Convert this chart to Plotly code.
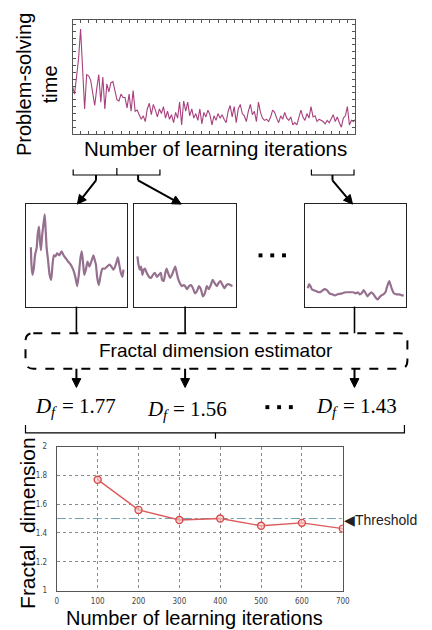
import math
import plotly.graph_objects as go

W, H = 432, 630

# ---- data -------------------------------------------------------------
# problem-solving time (relative units), sampled every 5 learning iterations
iters_time = list(range(0, 701, 5))
solve_time = [42, 35, 50, 66, 92, 58, 22, 52, 51, 47, 35, 25, 40, 52, 28, 50, 22, 44, 37, 45,
              46, 37, 30, 29, 35, 32, 32, 23, 35, 20, 38, 20, 21, 17, 13, 16, 11,
              22, 27, 17, 26, 21, 15, 22, 18, 24, 14, 20, 13, 17, 10, 19, 14, 28, 8, 29,
              20, 28, 16, 22, 14, 18, 12, 22, 9, 19, 15, 21, 17, 8, 16, 12, 18,
              14, 17, 13, 10, 20, 25, 15, 24, 10, 22, 26, 18, 16, 11, 20, 26, 17, 20, 11,
              28, 19, 14, 12, 13, 11, 15, 21, 19, 14, 10, 16, 13, 19, 14, 12, 15, 8,
              10, 8, 16, 21, 15, 12, 18, 14, 24, 15, 16, 11, 13, 12, 11, 9, 12, 10, 14,
              17, 11, 15, 10, 6, 14, 16, 24, 8, 12, 11, 13]

# zoomed windows of the learning curve (position within window, relative time)
win1_x = [4.8, 5.4, 6.4, 7.7, 8.9, 10.5, 11.5, 12.8, 13.7, 14.7, 16.0, 17.3, 18.5, 19.5, 20.4,
          21.7, 23.3, 24.9, 26.2, 27.5, 29.1, 30.7, 32.9, 35.1, 37.1, 39.3, 41.5, 44.1, 46.6,
          48.9, 50.5, 52.1, 53.7, 55.0, 56.2, 57.5, 59.1, 60.7, 62.6, 64.5, 66.5, 67.7, 69.0,
          70.3, 71.9, 73.5, 75.4, 77.6, 79.9, 82.4, 84.3, 86.3, 87.9, 89.5, 90.7, 92.0, 93.6,
          95.2, 96.2]
win1_y = [58, 41, 31, 37, 50, 57, 70, 78, 65, 55, 70, 81, 90, 73, 57, 46, 31, 26, 41, 50,
          49, 52, 50, 54, 50, 47, 44, 41, 36, 28, 20, 31, 47, 54, 44, 31, 36, 44, 39, 44,
          50, 46, 41, 28, 21, 30, 37, 37, 39, 41, 39, 36, 39, 44, 48, 41, 33, 29, 36]

win2_x = [3.2, 4.2, 5.5, 6.8, 8.1, 9.4, 10.6, 12.3, 14.5, 16.5, 18.4, 20.3, 22.3, 24.2, 26.1,
          27.4, 29.0, 30.6, 31.9, 33.2, 35.2, 37.1, 39.0, 40.3, 41.6, 42.9, 44.8, 46.8, 48.4,
          50.0, 51.9, 53.9, 55.8, 57.7, 59.7, 61.6, 63.5, 65.5, 67.4, 69.4, 71.3, 73.2, 75.2,
          77.1, 79.0, 81.0, 82.9, 84.8, 86.8, 88.7, 90.6, 92.6, 94.5, 96.5]
win2_y = [49, 41, 36, 39, 31, 36, 37, 33, 29, 28, 31, 33, 29, 31, 33, 26, 25, 33, 37, 33,
          28, 31, 36, 39, 34, 28, 23, 20, 21, 20, 17, 20, 21, 18, 13, 15, 20, 17, 10, 13,
          20, 17, 21, 26, 23, 20, 23, 25, 21, 18, 21, 22, 21, 20]

win3_x = [3.2, 4.5, 5.8, 7.1, 9.0, 11.6, 14.2, 16.8, 19.4, 21.9, 24.5, 27.1, 29.7, 32.3, 34.8,
          37.4, 40.0, 42.6, 45.2, 47.7, 50.3, 52.3, 54.2, 56.1, 58.1, 60.0, 61.9, 63.9, 65.8,
          67.7, 69.7, 71.6, 73.5, 75.5, 77.4, 79.4, 80.6, 81.9, 83.2, 84.5, 85.8, 87.7, 90.3,
          92.9, 95.5, 97.4]
win3_y = [18, 22, 20, 17, 16, 15, 14, 15, 17, 16, 13, 12, 11, 12, 12.5, 13, 14, 14, 14, 14,
          13, 14, 12, 13, 16, 13, 10, 12.5, 14, 12, 9, 7, 9, 11, 12, 14, 18, 22, 25, 21,
          17, 13, 12, 12, 11, 11]

# estimated fractal dimension per 100-iteration window
fd_iters = [100, 200, 300, 400, 500, 600, 700]
fd_values = [1.77, 1.56, 1.49, 1.50, 1.45, 1.47, 1.43]
threshold = 1.5

fd_ticks_x = [0, 100, 200, 300, 400, 500, 600, 700]
fd_ticks_y = [1, 1.2, 1.4, 1.6, 1.8, 2]
fd_ticktext_y = ["1", "1.2", "1.4", "1.6", "1.8", "2"]


def xdom(a, b):
    return [a / W, b / W]


def ydom(top, bottom):
    return [1 - bottom / H, 1 - top / H]


SANS = "Liberation Sans"
SERIF = "Liberation Serif"
LINE_TIME = "#a8407e"
LINE_WIN = "#96708f"

fig = go.Figure()

# learning curve
fig.add_trace(go.Scatter(x=iters_time, y=solve_time, mode="lines",
                         line=dict(color=LINE_TIME, width=1.1),
                         xaxis="x", yaxis="y", hoverinfo="skip"))

# three zoomed windows
for k, (wx, wy) in enumerate([(win1_x, win1_y), (win2_x, win2_y), (win3_x, win3_y)], start=2):
    fig.add_trace(go.Scatter(x=wx, y=wy, mode="lines",
                             line=dict(color=LINE_WIN, width=2.2, shape="spline", smoothing=0.5),
                             xaxis=f"x{k}", yaxis=f"y{k}", hoverinfo="skip"))

# threshold and fractal-dimension curve
fig.add_trace(go.Scatter(x=[fd_ticks_x[0], fd_ticks_x[-1]], y=[threshold, threshold], mode="lines",
                         line=dict(color="#6f9fb3", width=1, dash="dashdot"),
                         xaxis="x5", yaxis="y5", hoverinfo="skip"))
fig.add_trace(go.Scatter(x=fd_iters, y=fd_values, mode="lines+markers",
                         line=dict(color="#dd5a5a", width=1.4),
                         marker=dict(symbol="circle", size=7, color="rgba(250,200,200,0.6)",
                                     line=dict(color="#d94c4c", width=1.4)),
                         xaxis="x5", yaxis="y5", hoverinfo="skip"))

# canvas axis in pixel units for the flow-diagram decorations
fig.add_trace(go.Scatter(x=[0], y=[0], mode="markers", marker=dict(opacity=0),
                         xaxis="x6", yaxis="y6", hoverinfo="skip"))

frame = dict(showline=True, mirror=True, linecolor="#222", linewidth=1.3,
             showgrid=False, zeroline=False, showticklabels=False, ticks="")

layout = dict(
    width=W, height=H, autosize=False,
    margin=dict(l=0, r=0, t=0, b=0),
    paper_bgcolor="white", plot_bgcolor="rgba(0,0,0,0)",
    showlegend=False,
    xaxis=dict(domain=xdom(72, 361), range=[0, 700], anchor="y",
               showline=True, mirror="allticks", linecolor="#555", linewidth=1,
               ticks="inside", ticklen=3, tickcolor="#555", dtick=20,
               showgrid=False, zeroline=False, showticklabels=False),
    yaxis=dict(domain=ydom(16, 132), range=[0, 100], anchor="x",
               showline=True, mirror="allticks", linecolor="#555", linewidth=1,
               ticks="inside", ticklen=3, tickcolor="#555", dtick=6,
               showgrid=False, zeroline=False, showticklabels=False),
    xaxis2=dict(domain=xdom(24.5, 128), range=[0, 100], anchor="y2", **frame),
    yaxis2=dict(domain=ydom(203, 307), range=[0, 100], anchor="x2", **frame),
    xaxis3=dict(domain=xdom(135, 239), range=[0, 100], anchor="y3", **frame),
    yaxis3=dict(domain=ydom(203, 307), range=[0, 100], anchor="x3", **frame),
    xaxis4=dict(domain=xdom(309, 413), range=[0, 100], anchor="y4", **frame),
    yaxis4=dict(domain=ydom(203, 307), range=[0, 100], anchor="x4", **frame),
    xaxis5=dict(domain=xdom(56, 348), range=[0, 700], anchor="y5",
                tickvals=fd_ticks_x, ticks="", ticklabelstandoff=3,
                tickfont=dict(family="DejaVu Sans Condensed", size=8, color="#444"),
                showline=True, mirror=True, linecolor="#555", linewidth=1.2,
                showgrid=True, gridcolor="#8a8a8a", griddash="dot", gridwidth=1,
                zeroline=False),
    yaxis5=dict(domain=ydom(449, 595), range=[1, 2], anchor="x5",
                tickvals=fd_ticks_y, ticktext=fd_ticktext_y, ticks="", ticklabelstandoff=7,
                tickfont=dict(family="DejaVu Sans Condensed", size=8, color="#444"),
                showline=True, mirror=True, linecolor="#555", linewidth=1.2,
                showgrid=True, gridcolor="#8a8a8a", griddash="dot", gridwidth=1,
                zeroline=False),
    xaxis6=dict(domain=[0, 1], range=[0, W], anchor="y6", visible=False, fixedrange=True),
    yaxis6=dict(domain=[0, 1], range=[H, 0], anchor="x6", visible=False, fixedrange=True),
)
fig.update_layout(**layout)

shape_base = dict(xref="x6", yref="y6", line=dict(color="black", width=1.2))
shapes = []


def arrow(x_tip, y_tip, x_tail, y_tail, head=9.0, half=4.5):
    """Straight black arrow drawn as a line plus a filled triangular head."""
    dx, dy = x_tip - x_tail, y_tip - y_tail
    n = math.hypot(dx, dy)
    ux, uy = dx / n, dy / n
    bx, by = x_tip - ux * head, y_tip - uy * head
    shapes.append(dict(type="line", x0=x_tail, y0=y_tail, x1=bx + ux, y1=by + uy,
                       xref="x6", yref="y6", line=dict(color="black", width=2)))
    p1 = (bx - uy * half, by + ux * half)
    p2 = (bx + uy * half, by - ux * half)
    shapes.append(dict(type="path", xref="x6", yref="y6",
                       path=f"M{x_tip},{y_tip} L{p1[0]:.2f},{p1[1]:.2f} L{p2[0]:.2f},{p2[1]:.2f} Z",
                       fillcolor="black", line=dict(color="black", width=1)))


def dots(cx, cy, size=4.0, gap=12.0):
    """Three small filled squares used as an ellipsis."""
    for k in (-1, 0, 1):
        x = cx + k * gap
        shapes.append(dict(type="rect", xref="x6", yref="y6",
                           x0=x - size / 2, x1=x + size / 2, y0=cy - size / 2, y1=cy + size / 2,
                           fillcolor="black", line=dict(width=0)))


# small brackets below the learning curve
for path in ["M72.7,168 V173.5 H117.3 V166.5",
             "M117.3,173.5 H161.3 V168",
             "M316,168 V173.5 H359.5 V168"]:
    shapes.append(dict(type="path", path=path, **shape_base))
for cx in [96, 139, 337.5]:
    shapes.append(dict(type="line", x0=cx, x1=cx, y0=173.5, y1=179,
                       xref="x6", yref="y6", line=dict(color="black", width=2)))
arrow(77, 203, 96, 179)
arrow(183, 203, 139, 179)
arrow(358, 203, 337.5, 179)

dots(276, 255)

# connectors from the windows to the estimator
for cx in [76, 187, 360]:
    shapes.append(dict(type="line", x0=cx, x1=cx, y0=307, y1=334,
                       xref="x6", yref="y6", line=dict(color="black", width=1.6)))
# dashed rounded estimator box
shapes.append(dict(type="path", xref="x6", yref="y6",
                   path=("M32,334 H406 Q414,334 414,342 V362 Q414,370 406,370 "
                         "H32 Q24,370 24,362 V342 Q24,334 32,334 Z"),
                   line=dict(color="black", width=2, dash="dash")))
for cx in [76, 187, 360]:
    arrow(cx, 389, cx, 370)

dots(283, 409)

# large bracket gathering the estimates
shapes.append(dict(type="path", path="M24,427 V435 H411 V427", **shape_base))
shapes.append(dict(type="line", x0=218, x1=218, y0=435, y1=441,
                   xref="x6", yref="y6", line=dict(color="black", width=1.2)))
fig.update_layout(shapes=shapes)

ann = []


def label(x, y, text, size, family=SANS, angle=0, xanchor="center", color="black", pad=1):
    ann.append(dict(x=x, y=y, xref="x6", yref="y6", text=text, showarrow=False,
                    textangle=angle, xanchor=xanchor, yanchor="middle", borderpad=pad,
                    font=dict(family=family, size=size, color=color)))


label(36, 82, "Problem-solving<br>time", 20, angle=-90)
label(218, 147, "Number of learning iterations", 20.5)
label(219, 352, "Fractal dimension estimator", 19)

# D_f = value labels: italic D, lowered small italic f, then the value
est_pos = [(33, 408), (147, 411), (320, 408)]
est_vals = [fd_values[0], fd_values[1], fd_values[-1]]
for (lx, ly), v in zip(est_pos, est_vals):
    label(lx, ly, "<i>D</i>", 21, family=SERIF, xanchor="left", pad=0)
    label(lx + 16, ly + 6, "<i>f</i>", 15, family=SERIF, xanchor="left", pad=0)
    label(lx + 27, ly, f"= {v:.2f}", 21, family=SERIF, xanchor="left", pad=0)

label(26, 526, "Fractal  dimension", 21, angle=-90)
label(347, 523, "◀Threshold", 14, xanchor="left", color="#222")
label(197, 623, "Number of learning iterations", 20)

fig.update_layout(annotations=ann)
fig.write_html("out.html")
